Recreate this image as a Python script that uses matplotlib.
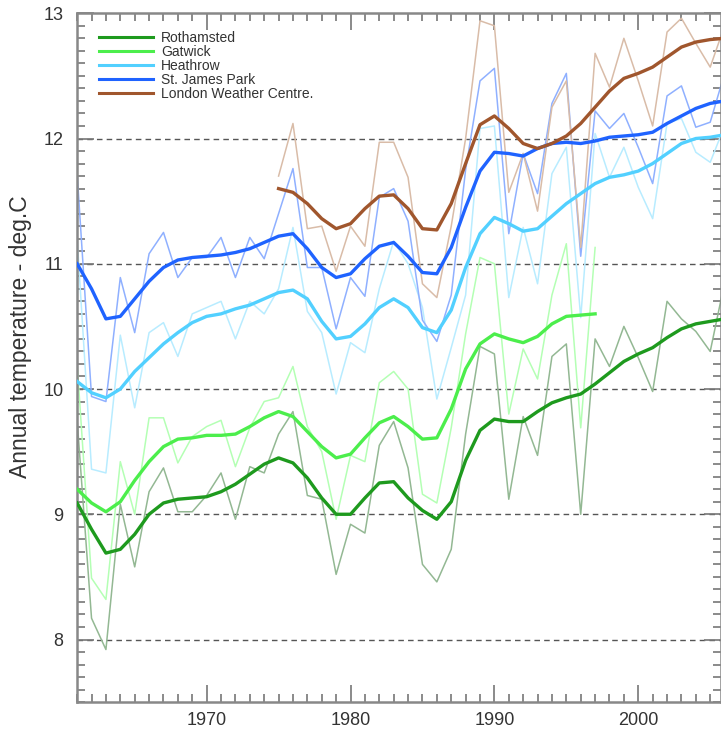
import numpy as np
import matplotlib
matplotlib.use('Agg')
import matplotlib.pyplot as plt
from matplotlib.ticker import MultipleLocator

plt.rcParams['font.family'] = ['Liberation Sans', 'DejaVu Sans']

years = np.arange(1961, 2007)
years_gat = np.arange(1961, 1998)
years_lwc = np.arange(1975, 2007)

# yearly means (thin lines)
roth_raw = [9.75, 8.17, 7.92, 9.08, 8.58, 9.18, 9.37, 9.02, 9.02, 9.15,
            9.33, 8.96, 9.38, 9.33, 9.64, 9.82, 9.15, 9.12, 8.52, 8.92,
            8.85, 9.55, 9.74, 9.37, 8.6, 8.46, 8.72, 9.64, 10.34, 10.28,
            9.12, 9.78, 9.47, 10.26, 10.36, 9.0, 10.4, 10.18, 10.5, 10.25,
            9.98, 10.7, 10.56, 10.46, 10.3, 10.85]
gat_raw = [10.2, 8.49, 8.32, 9.42, 9.0, 9.77, 9.77, 9.41, 9.62, 9.7,
           9.75, 9.38, 9.69, 9.9, 9.93, 10.18, 9.7, 9.5, 8.96, 9.47,
           9.42, 10.05, 10.14, 10.0, 9.16, 9.09, 9.69, 10.44, 11.05, 11.0,
           9.8, 10.32, 10.08, 10.75, 11.16, 9.69, 11.13]
heat_raw = [11.2, 9.36, 9.33, 10.43, 9.85, 10.45, 10.53, 10.26, 10.6, 10.65,
            10.7, 10.4, 10.7, 10.6, 10.8, 11.29, 10.62, 10.45, 9.96, 10.37,
            10.29, 10.8, 11.18, 11.0, 10.65, 9.92, 10.33, 10.75, 12.08, 12.1,
            10.73, 11.29, 10.84, 11.72, 11.93, 10.57, 12.04, 11.69, 11.93, 11.61,
            11.36, 12.12, 12.16, 11.89, 11.81, 12.1]
sjp_raw = [11.72, 9.94, 9.9, 10.89, 10.45, 11.08, 11.25, 10.89, 11.05, 11.05,
           11.21, 10.89, 11.21, 11.04, 11.4, 11.76, 10.97, 10.97, 10.48, 10.89,
           10.74, 11.53, 11.6, 11.34, 10.55, 10.38, 10.75, 11.75, 12.46, 12.56,
           11.24, 11.88, 11.56, 12.28, 12.52, 11.06, 12.22, 12.08, 12.2, 11.93,
           11.64, 12.34, 12.42, 12.09, 12.13, 12.52]
lwc_raw = [11.7, 12.12, 11.28, 11.3, 10.94, 11.3, 11.14, 11.97, 11.97, 11.69,
           10.84, 10.73, 11.3, 12.0, 12.94, 12.9, 11.57, 11.88, 11.42, 12.25,
           12.46, 11.13, 12.68, 12.41, 12.8, 12.46, 12.1, 12.85, 12.96, 12.76,
           12.57, 12.9]

# smoothed curves (thick lines)
roth_sm = [9.09, 8.88, 8.69, 8.72, 8.84, 9.0, 9.09, 9.12, 9.13, 9.14,
           9.18, 9.24, 9.32, 9.4, 9.45, 9.41, 9.29, 9.13, 9.0, 9.0,
           9.13, 9.25, 9.26, 9.13, 9.03, 8.96, 9.1, 9.43, 9.67, 9.76,
           9.74, 9.74, 9.82, 9.89, 9.93, 9.96, 10.04, 10.13, 10.22, 10.28,
           10.33, 10.41, 10.48, 10.52, 10.54, 10.56]
gat_sm = [9.2, 9.09, 9.02, 9.1, 9.27, 9.42, 9.54, 9.6, 9.61, 9.63,
          9.63, 9.64, 9.7, 9.77, 9.82, 9.78, 9.66, 9.54, 9.45, 9.48,
          9.61, 9.73, 9.78, 9.7, 9.6, 9.61, 9.84, 10.16, 10.36, 10.44,
          10.4, 10.37, 10.42, 10.52, 10.58, 10.59, 10.6]
heat_sm = [10.06, 9.97, 9.93, 10.0, 10.14, 10.25, 10.36, 10.45, 10.53, 10.58,
           10.6, 10.64, 10.67, 10.72, 10.77, 10.79, 10.72, 10.54, 10.4, 10.42,
           10.52, 10.65, 10.72, 10.65, 10.49, 10.45, 10.63, 10.97, 11.24, 11.37,
           11.32, 11.26, 11.28, 11.38, 11.48, 11.56, 11.64, 11.69, 11.71, 11.74,
           11.8, 11.88, 11.96, 12.0, 12.01, 12.03]
sjp_sm = [11.0, 10.8, 10.56, 10.58, 10.72, 10.86, 10.97, 11.03, 11.05, 11.06,
          11.07, 11.09, 11.12, 11.17, 11.22, 11.24, 11.12, 10.97, 10.89, 10.92,
          11.04, 11.14, 11.17, 11.06, 10.93, 10.92, 11.13, 11.45, 11.74, 11.89,
          11.88, 11.86, 11.92, 11.96, 11.97, 11.96, 11.98, 12.01, 12.02, 12.03,
          12.05, 12.12, 12.18, 12.24, 12.28, 12.3]
lwc_sm = [11.6, 11.57, 11.48, 11.36, 11.28, 11.32, 11.44, 11.54, 11.55, 11.44,
          11.28, 11.27, 11.48, 11.8, 12.11, 12.18, 12.08, 11.96, 11.92, 11.96,
          12.02, 12.12, 12.25, 12.38, 12.48, 12.52, 12.57, 12.65, 12.73, 12.77,
          12.79, 12.8]

names = ['Rothamsted', 'Gatwick', 'Heathrow', 'St. James Park', 'London Weather Centre.']
xs = [years, years_gat, years, years, years_lwc]
raws = [roth_raw, gat_raw, heat_raw, sjp_raw, lwc_raw]
smooths = [roth_sm, gat_sm, heat_sm, sjp_sm, lwc_sm]
dark = ['#1e9a1e', '#4cee4c', '#52d0ff', '#1f63ff', '#a0562d']
light = ['#93b893', '#b4ffb4', '#b8ecff', '#8fb0ff', '#d9bca8']

fig = plt.figure(figsize=(7.21, 7.36), dpi=100)
ax = fig.add_axes([0.107, 0.046, 0.893, 0.936])

for v in [8, 9, 10, 11, 12]:
    ax.axhline(v, color='#555555', lw=1.0, ls=(0, (4, 3)), zorder=1)

for x, r, c in zip(xs, raws, light):
    ax.plot(x, r, color=c, lw=1.1, zorder=2)
for x, s, c, n in zip(xs, smooths, dark, names):
    ax.plot(x, s, color=c, lw=2.4, label=n, zorder=3)

ax.set_xlim(1961, 2005.75)
ax.set_ylim(7.5, 13)
ax.xaxis.set_major_locator(MultipleLocator(10))
ax.xaxis.set_minor_locator(MultipleLocator(1))
ax.yaxis.set_minor_locator(MultipleLocator(0.1))
ax.set_yticks([8, 9, 10, 11, 12, 13])
ax.tick_params(which='both', direction='in', top=True, right=True,
               color='#777777', labelsize=13, labelcolor='#333333')
ax.tick_params(which='major', length=12, width=1.2)
ax.tick_params(which='minor', length=6, width=1.2)
ax.tick_params(axis='y', which='major', pad=10)
ax.tick_params(axis='x', which='major', pad=7)
for sp in ax.spines.values():
    sp.set_color('#888888')
    sp.set_linewidth(1.8)

ax.set_ylabel('Annual temperature - deg.C', fontsize=16.5, color='#333333')
ax.yaxis.set_label_coords(-0.07, 0.53)

leg = ax.legend(loc='upper left', bbox_to_anchor=(0.025, 0.982), frameon=False,
                fontsize=10, handlelength=3.9, handletextpad=0.6,
                labelspacing=0.0, borderaxespad=0)
for t in leg.get_texts():
    t.set_color('#333333')
for h in leg.get_lines():
    h.set_linewidth(2.2)

fig.savefig('out.png', dpi=100)
